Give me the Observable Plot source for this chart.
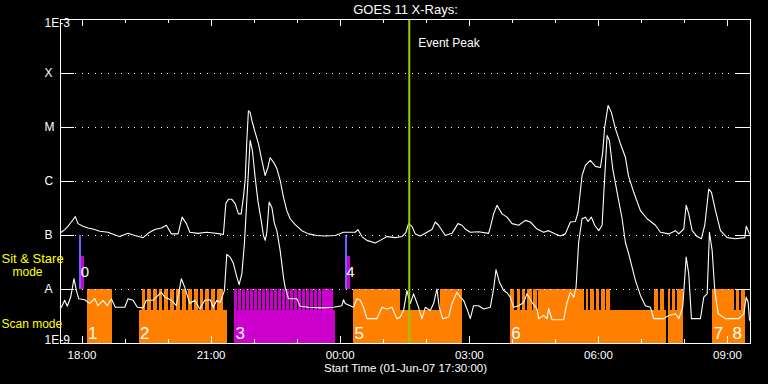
<!DOCTYPE html>
<html><head><meta charset="utf-8">
<script src="https://cdn.jsdelivr.net/npm/d3@7"></script>
<script src="https://cdn.jsdelivr.net/npm/@observablehq/plot@0.6"></script>
<style>html,body{margin:0;padding:0;background:#000;}</style>
</head><body><div id="chart"></div>
<script>
// ---------- DATA (time = hours UT since 2007-06-01 00:00, value = log10 flux W/m^2) ----------
const longChannel = [[17.519,-6.94],[17.598,-6.89],[17.674,-6.83],[17.751,-6.75],[17.844,-6.65],[17.907,-6.78],[18.023,-6.83],[18.140,-6.86],[18.295,-6.89],[18.412,-6.92],[18.605,-6.94],[18.798,-7.00],[18.877,-7.02],[19.070,-6.96],[19.226,-7.00],[19.419,-7.04],[19.535,-6.96],[19.691,-6.89],[19.844,-6.86],[19.960,-6.81],[20.077,-6.97],[20.233,-6.97],[20.326,-6.66],[20.426,-6.78],[20.505,-6.94],[20.698,-6.96],[20.891,-6.94],[21.016,-6.95],[21.209,-6.97],[21.286,-6.98],[21.342,-6.41],[21.402,-6.33],[21.481,-6.33],[21.558,-6.41],[21.635,-6.60],[21.698,-6.60],[21.751,-6.29],[21.791,-5.98],[21.830,-5.24],[21.867,-4.69],[21.907,-4.72],[21.947,-4.87],[22.023,-5.09],[22.100,-5.30],[22.179,-5.61],[22.256,-5.89],[22.319,-5.74],[22.372,-5.56],[22.449,-5.64],[22.528,-5.76],[22.605,-5.98],[22.681,-6.29],[22.760,-6.54],[22.837,-6.69],[22.953,-6.80],[23.109,-6.91],[23.263,-6.97],[23.458,-7.00],[23.651,-7.01],[23.884,-7.00],[24.077,-6.94],[24.349,-6.94],[24.412,-6.89],[24.505,-7.02],[24.621,-7.09],[24.814,-7.14],[24.930,-7.09],[25.086,-7.02],[25.279,-7.04],[25.435,-7.02],[25.528,-6.94],[25.588,-6.78],[25.667,-6.83],[25.744,-6.97],[25.860,-7.01],[25.977,-6.96],[26.133,-6.89],[26.209,-6.75],[26.286,-6.81],[26.442,-7.00],[26.598,-6.96],[26.737,-6.78],[26.830,-6.81],[26.907,-6.88],[27.023,-6.94],[27.216,-6.93],[27.449,-6.96],[27.488,-6.85],[27.565,-6.60],[27.644,-6.44],[27.760,-6.60],[27.877,-6.66],[27.993,-6.78],[28.147,-6.81],[28.302,-6.72],[28.419,-6.75],[28.574,-6.88],[28.728,-6.94],[28.844,-6.91],[29.000,-6.97],[29.116,-7.01],[29.233,-6.97],[29.349,-6.75],[29.465,-6.74],[29.528,-6.57],[29.621,-5.89],[29.698,-5.70],[29.814,-5.61],[29.930,-5.72],[30.047,-5.74],[30.100,-5.46],[30.147,-4.99],[30.226,-4.59],[30.302,-4.72],[30.395,-5.02],[30.512,-5.30],[30.628,-5.55],[30.698,-5.89],[30.821,-6.20],[30.977,-6.54],[31.133,-6.69],[31.326,-6.81],[31.442,-6.94],[31.635,-6.97],[31.791,-6.91],[31.867,-6.97],[31.984,-6.88],[32.040,-6.44],[32.100,-6.60],[32.179,-6.91],[32.295,-7.02],[32.395,-7.06],[32.472,-6.81],[32.565,-6.14],[32.628,-6.20],[32.721,-6.54],[32.837,-6.91],[32.993,-7.04],[33.186,-7.06],[33.402,-7.04],[33.435,-6.83],[33.481,-6.91],[33.512,-6.97]];

const shortChannel = [[17.519,-8.33],[17.598,-8.20],[17.658,-8.31],[17.737,-8.14],[17.814,-7.80],[17.867,-8.01],[17.923,-8.17],[18.063,-8.19],[18.179,-8.26],[18.295,-8.17],[18.372,-8.30],[18.488,-8.20],[18.588,-8.30],[18.681,-8.17],[18.774,-8.33],[18.993,-8.33],[19.070,-8.17],[19.186,-8.20],[19.286,-8.33],[19.419,-8.34],[19.495,-8.20],[19.651,-8.20],[19.844,-8.05],[19.923,-8.14],[20.077,-8.20],[20.193,-8.30],[20.309,-7.80],[20.388,-7.96],[20.505,-8.26],[20.621,-8.20],[20.737,-8.36],[20.853,-8.20],[20.977,-8.19],[21.053,-8.33],[21.133,-8.20],[21.209,-8.24],[21.309,-8.02],[21.365,-7.35],[21.442,-7.40],[21.519,-7.52],[21.598,-7.77],[21.651,-7.91],[21.714,-7.71],[21.774,-7.15],[21.830,-6.35],[21.907,-5.24],[21.960,-5.43],[22.023,-5.92],[22.086,-6.35],[22.163,-6.72],[22.216,-7.00],[22.256,-7.09],[22.295,-6.94],[22.349,-6.38],[22.412,-6.48],[22.472,-6.78],[22.528,-6.91],[22.605,-7.28],[22.681,-7.77],[22.721,-7.96],[22.798,-8.17],[22.993,-8.17],[23.070,-8.31],[23.263,-8.33],[23.574,-8.34],[23.844,-8.33],[24.040,-8.30],[24.077,-8.19],[24.116,-8.26],[24.233,-8.30],[24.309,-8.33],[24.388,-8.17],[24.465,-8.20],[24.542,-8.33],[24.621,-8.54],[24.853,-8.54],[24.970,-8.33],[25.086,-8.36],[25.202,-8.33],[25.319,-8.54],[25.395,-8.51],[25.472,-8.39],[25.551,-8.02],[25.628,-8.26],[25.705,-8.08],[25.807,-8.30],[25.900,-8.54],[25.977,-8.33],[26.093,-8.39],[26.170,-8.26],[26.249,-7.99],[26.302,-8.33],[26.379,-8.54],[26.519,-8.51],[26.598,-8.26],[26.714,-8.05],[26.791,-8.14],[26.867,-8.20],[26.947,-8.36],[27.023,-8.54],[27.100,-8.30],[27.216,-8.30],[27.333,-8.36],[27.488,-8.33],[27.565,-7.99],[27.621,-7.63],[27.698,-7.86],[27.798,-8.02],[27.877,-8.06],[27.953,-8.14],[28.030,-8.33],[28.147,-8.30],[28.263,-8.24],[28.342,-8.08],[28.458,-8.24],[28.574,-8.36],[28.612,-8.54],[28.728,-8.48],[28.807,-8.54],[28.844,-8.35],[28.923,-8.56],[29.193,-8.56],[29.272,-8.24],[29.349,-8.05],[29.426,-8.14],[29.481,-7.96],[29.542,-7.12],[29.621,-6.69],[29.698,-6.66],[29.760,-6.74],[29.837,-6.66],[29.914,-6.81],[30.007,-6.91],[30.086,-6.81],[30.123,-6.26],[30.202,-5.15],[30.256,-5.24],[30.333,-5.76],[30.435,-6.20],[30.551,-6.69],[30.628,-7.13],[30.705,-7.34],[30.784,-7.59],[30.860,-7.83],[30.977,-8.11],[31.093,-8.30],[31.209,-8.33],[31.286,-8.54],[31.519,-8.54],[31.635,-8.48],[31.791,-8.45],[31.867,-8.54],[31.960,-8.33],[32.040,-7.40],[32.100,-7.71],[32.163,-8.54],[32.372,-8.54],[32.449,-8.14],[32.528,-8.08],[32.581,-6.94],[32.644,-7.28],[32.705,-8.02],[32.784,-8.45],[32.953,-8.54],[33.263,-8.54],[33.379,-8.45],[33.435,-8.14],[33.481,-8.24],[33.512,-8.57]];

// scan-mode blocks: [start, end, mode]
const scanBlocks = [[18.116,18.698,"scan"],[19.326,21.372,"scan"],[21.542,23.884,"flare"],[24.309,26.853,"scan"],[27.953,31.970,"scan"],[32.658,33.419,"scan"]];
// upper (full-rate) spans: [start, end, mode]
const fullSpans = [[18.116,18.698,"scan"],[19.395,21.279,"scan"],[21.542,23.837,"flare"],[24.309,25.395,"scan"],[26.326,26.853,"scan"],[27.953,30.279,"scan"],[31.302,31.970,"scan"],[32.658,33.419,"scan"]];
// gaps inside the full-rate spans: [start, end]
const fullGaps = [
  [19.482,19.528],[19.617,19.663],[19.749,19.795],[19.879,19.925],[20.017,20.063],[20.154,20.200],[20.289,20.335],[20.424,20.470],[20.558,20.604],[20.698,20.744],[20.826,20.872],[20.954,21.000],[21.105,21.151],
  [21.624,21.647],[21.717,21.740],[21.810,21.833],[21.903,21.926],[21.996,22.019],[22.089,22.112],[22.182,22.205],[22.275,22.298],[22.368,22.391],[22.461,22.484],[22.554,22.577],[22.647,22.670],[22.740,22.763],[22.833,22.856],[22.926,22.949],[23.019,23.042],[23.112,23.135],[23.205,23.228],[23.298,23.321],[23.391,23.414],[23.484,23.507],[23.577,23.600],[23.670,23.693],[23.763,23.786],
  [28.053,28.109],[28.186,28.226],[28.302,28.342],[28.458,28.495],[28.574,28.616],[29.674,29.721],[29.774,29.826],[29.902,29.949],[30.035,30.077],[30.156,30.191],
  [31.407,31.442],[31.547,31.588],[31.686,31.721],[31.791,31.830],
  [33.170,33.209],[33.286,33.319]];
// data dropout across both bands
const dropouts = [[31.588,31.621]];
// sit & stare markers: [start, end, topLog10, kind]
const sitStare = [[17.947,17.993,-7.0,"start"],[17.993,18.047,-7.39,"flare"],[24.128,24.163,-7.0,"start"],[24.163,24.233,-7.39,"flare"]];
// segment numbers
const segLabels = [["1",18.116],["2",19.326],["3",21.542],["5",24.309],["6",27.953],["7",32.658],["8",33.093]];
const sitLabels = [["0",17.993],["4",24.163]];
const eventPeak = [25.605];
const hourTicks = [18,19,20,21,22,23,24,25,26,27,28,29,30,31,32,33];
const majorTicks = [18,21,24,27,30,33];
const majorLabels = ["18:00","21:00","00:00","03:00","06:00","09:00"];
const levelExp = [-3,-4,-5,-6,-7,-8,-9];
const levelNames = ["1E-3","X","M","C","B","A","1E-9"];
const gridExp = [-4,-5,-6,-7,-8];

// ---------- helpers ----------
const H = h => new Date(Date.UTC(2007,5,1) + h*3600000);
const F = e => 10 ** e;
const LOW_TOP = F(-8.39), A_LVL = F(-8), BOTTOM = F(-9);
const color = {scan:"#ff8000", flare:"#cc00cc", start:"#6464ff"};
const FONT = "Liberation Sans, Arial, sans-serif";
const T = {fill: "white", lineAnchor: "middle"};

const chart = Plot.plot({
  width: 768, height: 384,
  marginLeft: 60, marginRight: 18, marginTop: 19, marginBottom: 41,
  style: {background: "black", color: "white", fontFamily: FONT, fontSize: "11px", overflow: "visible"},
  x: {type: "utc", domain: [H(17.5), H(33.535)], axis: null},
  y: {type: "log", domain: [1e-9, 1e-3], axis: null},
  marks: [
    Plot.rect(scanBlocks, {x1: d => H(d[0]), x2: d => H(d[1]), y1: BOTTOM, y2: LOW_TOP, fill: d => color[d[2]], shapeRendering: "crispEdges"}),
    Plot.rect(fullSpans, {x1: d => H(d[0]), x2: d => H(d[1]), y1: LOW_TOP, y2: A_LVL, fill: d => color[d[2]], shapeRendering: "crispEdges"}),
    Plot.rect(fullGaps, {x1: d => H(d[0]), x2: d => H(d[1]), y1: LOW_TOP, y2: A_LVL, fill: "black", shapeRendering: "crispEdges"}),
    Plot.rect(dropouts, {x1: d => H(d[0]), x2: d => H(d[1]), y1: BOTTOM, y2: A_LVL, fill: "black", shapeRendering: "crispEdges"}),
    Plot.rect(sitStare, {x1: d => H(d[0]), x2: d => H(d[1]), y1: A_LVL, y2: d => F(d[2]), fill: d => color[d[3]], shapeRendering: "crispEdges"}),
    // dotted grid
    Plot.ruleY(gridExp, {y: F, stroke: "white", strokeWidth: 1, strokeDasharray: "1 5.6", insetLeft: 15, insetRight: 14, shapeRendering: "crispEdges"}),
    // decade ticks left & right
    Plot.ruleY(levelExp, {y: F, stroke: "white", insetRight: 676, shapeRendering: "crispEdges"}),
    Plot.ruleY(levelExp, {y: F, stroke: "white", insetLeft: 676, shapeRendering: "crispEdges"}),
    // hour ticks top & bottom
    Plot.ruleX(hourTicks, {x: H, stroke: "white", insetBottom: 320, shapeRendering: "crispEdges"}),
    Plot.ruleX(majorTicks, {x: H, stroke: "white", insetBottom: 317, shapeRendering: "crispEdges"}),
    Plot.ruleX(hourTicks, {x: H, stroke: "white", insetTop: 320, shapeRendering: "crispEdges"}),
    Plot.ruleX(majorTicks, {x: H, stroke: "white", insetTop: 317, shapeRendering: "crispEdges"}),
    // curves
    Plot.line(longChannel, {x: d => H(d[0]), y: d => F(d[1]), stroke: "white", strokeWidth: 1.1}),
    Plot.line(shortChannel, {x: d => H(d[0]), y: d => F(d[1]), stroke: "white", strokeWidth: 1.1}),
    // event peak
    Plot.ruleX(eventPeak, {x: H, stroke: "#99cc00", strokeWidth: 2}),
    Plot.text(eventPeak, {...T, x: H, frameAnchor: "top", dy: 23.5, dx: 9, text: () => "Event Peak", textAnchor: "start", fontSize: 12}),
    // segment numbers
    Plot.text(segLabels, {...T, x: d => H(d[1]), y: F(-8.82), text: d => d[0], textAnchor: "start", dx: 1, fontSize: 17}),
    Plot.text(sitLabels, {...T, x: d => H(d[1]), y: F(-7.685), text: d => d[0], textAnchor: "start", dx: -1, fontSize: 15}),
    // frame
    Plot.frame({stroke: "white", shapeRendering: "crispEdges"}),
    // y labels
    Plot.text(levelExp.slice(1, 6), {...T, y: F, text: (d, i) => levelNames[i + 1], frameAnchor: "left", dx: -16, fontSize: 12}),
    Plot.text([levelExp[0]], {...T, y: F, text: () => levelNames[0], frameAnchor: "left", dx: -16, dy: 4, fontSize: 12}),
    Plot.text([levelExp[6]], {...T, y: F, text: () => levelNames[6], frameAnchor: "left", dx: -16, dy: -3, fontSize: 12}),
    // mode labels
    Plot.text(["Sit & Stare"], {...T, fill: "yellow", y: F(-7.43), frameAnchor: "left", dx: -59, textAnchor: "start", fontSize: 13}),
    Plot.text(["mode"], {...T, fill: "yellow", y: F(-7.67), frameAnchor: "left", dx: -48, textAnchor: "start", fontSize: 12}),
    Plot.text(["Scan mode"], {...T, fill: "yellow", y: F(-8.64), frameAnchor: "left", dx: -59, textAnchor: "start", fontSize: 12}),
    // x labels
    Plot.text(majorTicks, {...T, x: H, text: (d, i) => majorLabels[i], frameAnchor: "bottom", dy: 11.5, fontSize: 11.5}),
    Plot.text(["Start Time (01-Jun-07 17:30:00)"], {...T, frameAnchor: "bottom", dy: 25, fontSize: 11.5}),
    // title
    Plot.text(["GOES 11 X-Rays:"], {...T, frameAnchor: "top", dy: -9.5, fontSize: 13})
  ]
});
document.getElementById("chart").appendChild(chart);
</script>
</body></html>
